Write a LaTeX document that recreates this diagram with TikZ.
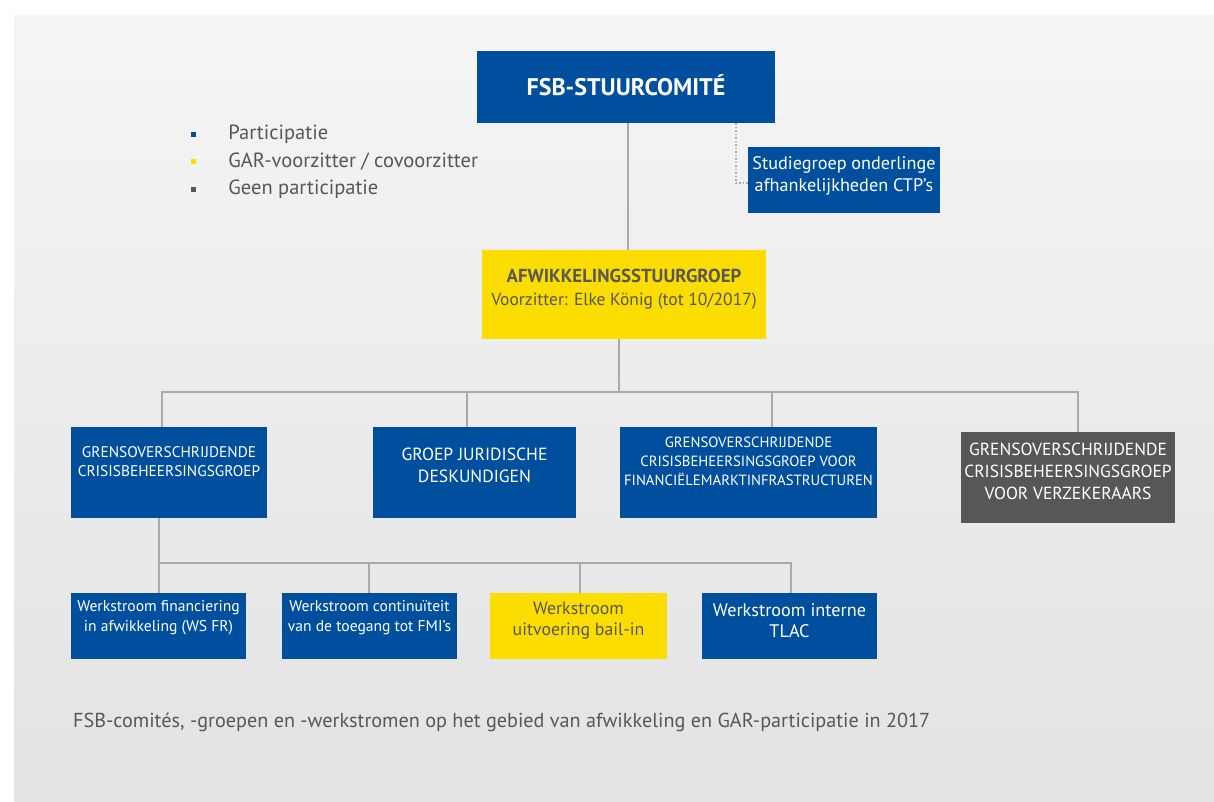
\documentclass[tikz,border=0pt]{standalone}
\usepackage{fontspec}
\setmainfont{PT Sans}
\usetikzlibrary{positioning}
\definecolor{fsbblue}{HTML}{004F9E}
\definecolor{garyellow}{HTML}{FCDD00}
\definecolor{nogray}{HTML}{575756}
\definecolor{txtgray}{HTML}{575756}
\definecolor{linegray}{HTML}{AAAAAA}
\tikzset{
  box/.style={rectangle,inner sep=0pt,anchor=north west},
  bluebox/.style={box,fill=fsbblue},
  yellowbox/.style={box,fill=garyellow},
  graybox/.style={box,fill=nogray},
  boxtxt/.style={inner sep=0pt,align=center,text=white},
  conn/.style={draw=linegray,line width=1.5pt},
  dotline/.style={draw=linegray,line width=1.5pt,dotted},
  legsq/.style={rectangle,inner sep=0pt,minimum size=5pt},
  legtxt/.style={inner sep=0pt,anchor=west,text=txtgray,font=\fontsize{20.5}{24}\selectfont}
}
\begin{document}
\begin{tikzpicture}[x=1pt,y=-1pt]
\useasboundingbox (0,0) rectangle (1214,801);
\fill[white] (0,0) rectangle (1214,801);
\shade[top color=black!4,bottom color=black!11] (14,15) rectangle (1214,801);
% legend
\node[legsq,fill=fsbblue] (sq1) at (193.5,134.5) {};
\node[legsq,fill=garyellow] (sq2) at (193.5,161.5) {};
\node[legsq,fill=nogray] (sq3) at (193.5,189.5) {};
\node[legtxt,right=32pt of sq1] (leg1) {Participatie};
\node[legtxt,right=32pt of sq2] (leg2) {GAR-voorzitter / covoorzitter};
\node[legtxt,right=32pt of sq3] (leg3) {Geen participatie};
% top
\node[bluebox,minimum width=298pt,minimum height=72pt] (fsb) at (477,51) {};
\node[boxtxt,font=\fontsize{24}{28}\bfseries] (fsb-t) at (626,85) {FSB-STUURCOMITÉ};
\node[bluebox,minimum width=192pt,minimum height=66pt] (studie) at (748,147) {};
\node[boxtxt,font=\fontsize{18.2}{22}\selectfont] (studie-t) at (844,176) {Studiegroep onderlinge\\afhankelijkheden CTP's};
\node[yellowbox,minimum width=284pt,minimum height=89pt] (afw) at (482,250) {};
\node[boxtxt,text=txtgray,font=\fontsize{17.5}{23}\selectfont] (afw-t) at (624,289) {{\fontsize{18.8}{23}\bfseries AFWIKKELINGSSTUURGROEP}\\Voorzitter: Elke König (tot 10/2017)};
% groepen
\node[bluebox,minimum width=196pt,minimum height=91pt] (gcb) at (71,427) {};
\node[boxtxt,font=\fontsize{15.4}{19}\selectfont] (gcb-t) at (169,462) {GRENSOVERSCHRIJDENDE\\CRISISBEHEERSINGSGROEP};
\node[bluebox,minimum width=203pt,minimum height=91pt] (jur) at (373,427) {};
\node[boxtxt,font=\fontsize{17.6}{22}\selectfont] (jur-t) at (474.5,465) {GROEP JURIDISCHE\\DESKUNDIGEN};
\node[bluebox,minimum width=257pt,minimum height=91pt] (fmi) at (620,427) {};
\node[boxtxt,font=\fontsize{14.8}{19}\selectfont] (fmi-t) at (748.5,461) {GRENSOVERSCHRIJDENDE\\CRISISBEHEERSINGSGROEP VOOR\\FINANCIËLEMARKTINFRASTRUCTUREN};
\node[graybox,minimum width=214pt,minimum height=91pt] (verz) at (961,432) {};
\node[boxtxt,font=\fontsize{17.5}{22}\selectfont] (verz-t) at (1068,471) {GRENSOVERSCHRIJDENDE\\CRISISBEHEERSINGSGROEP\\VOOR VERZEKERAARS};
% werkstromen
\node[bluebox,minimum width=175pt,minimum height=66pt] (ws1) at (71,593) {};
\node[boxtxt,font=\fontsize{15.6}{20}\selectfont] (ws1-t) at (158.5,618) {Werkstroom financiering\\in afwikkeling (WS FR)};
\node[bluebox,minimum width=175pt,minimum height=66pt] (ws2) at (282,593) {};
\node[boxtxt,font=\fontsize{15.6}{20}\selectfont] (ws2-t) at (369.5,618) {Werkstroom continuïteit\\van de toegang tot FMI's};
\node[yellowbox,minimum width=177pt,minimum height=66pt] (ws3) at (490,593) {};
\node[boxtxt,text=txtgray,font=\fontsize{17.8}{21}\selectfont] (ws3-t) at (578.5,621) {Werkstroom\\uitvoering bail-in};
\node[bluebox,minimum width=175pt,minimum height=66pt] (ws4) at (702,593) {};
\node[boxtxt,font=\fontsize{18.2}{21}\selectfont] (ws4-t) at (789.5,621) {Werkstroom interne\\TLAC};
% verbindingen
\coordinate (dk) at (736,183);
\draw[dotline] (fsb.south -| dk) -- (dk) -- (studie.west |- dk);
\coordinate (top) at (628,0);
\draw[conn] (fsb.south -| top) -- (afw.north -| top);
\coordinate (bus) at (619,392);
\coordinate (b1) at (162,392);
\coordinate (b2) at (467,392);
\coordinate (b3) at (772,392);
\coordinate (b4) at (1078,392);
\draw[conn] (afw.south -| bus) -- (bus);
\draw[conn] (b1 |- gcb.north) -- (b1) -- (b4) -- (b4 |- verz.north);
\draw[conn] (b2) -- (b2 |- jur.north);
\draw[conn] (b3) -- (b3 |- fmi.north);
\coordinate (w1) at (159,563);
\coordinate (w2) at (369,563);
\coordinate (w3) at (580,563);
\coordinate (w4) at (791,563);
\draw[conn] (gcb.south -| w1) -- (w1 |- ws1.north);
\draw[conn] (w1) -- (w4) -- (w4 |- ws4.north);
\draw[conn] (w2) -- (w2 |- ws2.north);
\draw[conn] (w3) -- (w3 |- ws3.north);
% bijschrift
\node[inner sep=0pt,anchor=west,text=txtgray,font=\fontsize{20.2}{24}\selectfont] (caption) at (73,722) {FSB-comités, -groepen en -werkstromen op het gebied van afwikkeling en GAR-participatie in 2017};
\end{tikzpicture}
\end{document}
